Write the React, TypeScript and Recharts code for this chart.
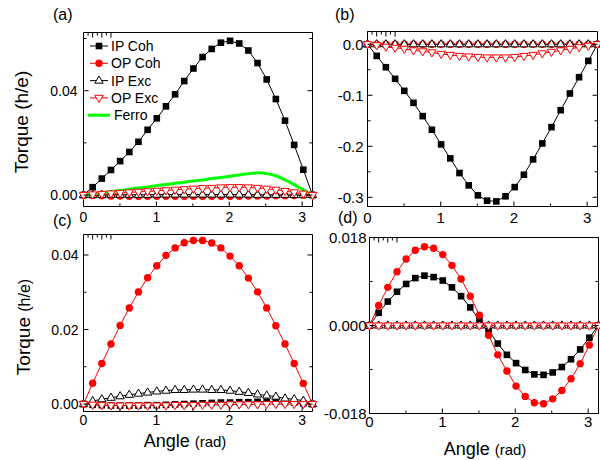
import React from 'react';
import { LineChart, Line, XAxis, YAxis, Legend } from 'recharts';

const FONT = '"Liberation Sans", Arial, Helvetica, sans-serif';

// x values (rad)
const angle = [0, 0.1257, 0.2513, 0.377, 0.5027, 0.6283, 0.754, 0.8796, 1.0053, 1.131, 1.2566, 1.3823, 1.508, 1.6336, 1.7593, 1.885, 2.0106, 2.1363, 2.2619, 2.3876, 2.5133, 2.6389, 2.7646, 2.8903, 3.0159, 3.1416];

// panel (a)
const aIpCoh = [0, 0.003, 0.0063, 0.0096, 0.013, 0.0165, 0.0204, 0.025, 0.0294, 0.034, 0.0386, 0.0437, 0.0485, 0.0529, 0.056, 0.0584, 0.0591, 0.0581, 0.0554, 0.0506, 0.0443, 0.0368, 0.0285, 0.0192, 0.0097, 0];
const aOpCoh = [0, -0.0002, -0.0003, -0.0004, -0.0004, -0.0005, -0.0005, -0.0005, -0.0005, -0.0005, -0.0005, -0.0005, -0.0005, -0.0005, -0.0005, -0.0005, -0.0005, -0.0005, -0.0004, -0.0004, -0.0004, -0.0003, -0.0003, -0.0002, -0.0001, 0];
const aIpExc = [0, 0, 0.0001, 0.0001, 0.0001, 0.0001, 0.0001, 0.0001, 0.0002, 0.0002, 0.0002, 0.0002, 0.0002, 0.0002, 0.0002, 0.0002, 0.0002, 0.0002, 0.0002, 0.0001, 0.0001, 0.0001, 0.0001, 0, 0, 0];
const aOpExc = [0, 0.0002, 0.0004, 0.0006, 0.0008, 0.001, 0.0012, 0.0014, 0.0016, 0.0018, 0.002, 0.0022, 0.0024, 0.0026, 0.0027, 0.0029, 0.003, 0.003, 0.0029, 0.0027, 0.0024, 0.002, 0.0015, 0.001, 0.0005, 0];
const aFerro = [0, 0.0004, 0.0008, 0.0013, 0.0017, 0.0022, 0.0027, 0.0031, 0.0036, 0.004, 0.0045, 0.0049, 0.0054, 0.0058, 0.0063, 0.0067, 0.0072, 0.0077, 0.0082, 0.0085, 0.0082, 0.0074, 0.0058, 0.004, 0.002, 0];

// panel (b)
const bIpCoh = [0, -0.0228, -0.045, -0.0678, -0.0913, -0.1148, -0.1409, -0.1676, -0.1963, -0.2237, -0.2524, -0.2766, -0.2962, -0.3066, -0.308, -0.298, -0.28, -0.2557, -0.2257, -0.1944, -0.1624, -0.1292, -0.0965, -0.0646, -0.0326, 0];
const bOpCoh = [0, 0, 0, 0, 0, 0, 0, 0, 0, 0, 0, 0, 0, 0, 0, 0, 0, 0, 0, 0, 0, 0, 0, 0, 0, 0];
const bIpExc = [0, 0, 0, 0, 0, 0, 0, 0, 0, 0, 0, 0, 0, 0, 0, 0, 0, 0, 0, 0, 0, 0, 0, 0, 0, 0];
const bOpExc = [0, -0.002, -0.005, -0.007, -0.009, -0.012, -0.014, -0.016, -0.019, -0.021, -0.023, -0.024, -0.025, -0.026, -0.026, -0.026, -0.025, -0.023, -0.021, -0.018, -0.015, -0.012, -0.009, -0.006, -0.003, 0];

// panel (c)
const cIpCoh = [0, -0.0002, -0.0003, -0.0004, -0.0004, -0.0004, -0.0004, -0.0003, -0.0003, -0.0002, -0.0001, 0, 0.0001, 0.0002, 0.0003, 0.0004, 0.0004, 0.0005, 0.0005, 0.0006, 0.0006, 0.0006, 0.0005, 0.0004, 0.0002, 0];
const cOpCoh = [0, 0.0056, 0.0109, 0.0161, 0.0211, 0.0258, 0.0301, 0.0339, 0.0371, 0.0399, 0.0419, 0.0433, 0.0439, 0.0439, 0.0432, 0.0419, 0.0397, 0.0371, 0.0338, 0.0301, 0.0258, 0.021, 0.0161, 0.0109, 0.0055, 0];
const cIpExc = [0, 0.0008, 0.0013, 0.0017, 0.0021, 0.0025, 0.0028, 0.0031, 0.0034, 0.0036, 0.0038, 0.0038, 0.0039, 0.0039, 0.0038, 0.0038, 0.0036, 0.0033, 0.003, 0.0026, 0.0023, 0.002, 0.0015, 0.0013, 0.0009, 0];
const cOpExc = [0, -0.0002, -0.0003, -0.0004, -0.0004, -0.0004, -0.0004, -0.0004, -0.0004, -0.0004, -0.0003, -0.0003, -0.0003, -0.0002, -0.0002, -0.0002, -0.0001, -0.0001, -0.0001, -0.0001, 0, 0, 0, 0, 0, 0];

// panel (d)
const dIpCoh = [0, 0.0026, 0.0049, 0.0069, 0.0085, 0.0097, 0.0102, 0.0099, 0.0092, 0.0078, 0.006, 0.0037, 0.0011, -0.0009, -0.0037, -0.006, -0.0077, -0.0091, -0.01, -0.0101, -0.0096, -0.0085, -0.0069, -0.0049, -0.0025, 0];
const dOpCoh = [0, 0.0041, 0.0078, 0.011, 0.0136, 0.0154, 0.0161, 0.0158, 0.0145, 0.0123, 0.0095, 0.006, 0.0021, -0.002, -0.006, -0.0093, -0.0124, -0.0145, -0.0158, -0.016, -0.015, -0.0133, -0.0109, -0.0078, -0.004, 0];
const dIpExc = [0, 0, 0, 0, 0, 0, 0, 0, 0, 0, 0, 0, 0, 0, 0, 0, 0, 0, 0, 0, 0, 0, 0, 0, 0, 0];
const dOpExc = [0, 0, 0, 0, 0, 0, 0, 0, 0, 0, 0, 0, 0, 0, 0, 0, 0, 0, 0, 0, 0, 0, 0, 0, 0, 0];

const xMajor = [0, 1, 2, 3];
const xMinor = [0.5, 1.5, 2.5];

type Shape = 'square' | 'circle' | 'up' | 'down' | 'none';
type SeriesDef = { key: string; name: string; color: string; shape: Shape; width: number; curve: 'linear' | 'monotone' };

const SERIES: SeriesDef[] = [
  { key: 'ipCoh', name: 'IP Coh', color: '#000000', shape: 'square', width: 1, curve: 'linear' },
  { key: 'opCoh', name: 'OP Coh', color: '#ff0000', shape: 'circle', width: 1, curve: 'linear' },
  { key: 'ipExc', name: 'IP Exc', color: '#000000', shape: 'up', width: 1, curve: 'linear' },
  { key: 'opExc', name: 'OP Exc', color: '#ff0000', shape: 'down', width: 1, curve: 'linear' },
  { key: 'ferro', name: 'Ferro', color: '#00ff00', shape: 'none', width: 3, curve: 'monotone' },
];

function marker(shape: Shape, color: string, cx: number, cy: number, key?: any) {
  if (shape === 'square') return <rect key={key} x={cx - 3.3} y={cy - 3.3} width={6.6} height={6.6} fill={color} />;
  if (shape === 'circle') return <circle key={key} cx={cx} cy={cy} r={3.7} fill={color} />;
  if (shape === 'up')
    return <path key={key} d={`M${cx},${cy - 4.6}L${cx - 4.2},${cy + 2.6}L${cx + 4.2},${cy + 2.6}Z`} fill="#fff" stroke={color} strokeWidth={1} />;
  if (shape === 'down')
    return <path key={key} d={`M${cx},${cy + 4.6}L${cx - 4.2},${cy - 2.6}L${cx + 4.2},${cy - 2.6}Z`} fill="#fff" stroke={color} strokeWidth={1} />;
  return <g key={key} />;
}

function buildRows(vals: Record<string, number[]>) {
  return angle.map((a, i) => {
    const r: any = { angle: a };
    Object.keys(vals).forEach((k) => (r[k] = vals[k][i]));
    return r;
  });
}

type PanelCfg = {
  id: string;
  letter: string;
  letterPos: [number, number];
  plot: { l: number; t: number; r: number; b: number };
  yDomain: [number, number];
  yMajor: number[];
  yMinor: number[];
  yDigits: number;
  fontSize: number;
  yGap: number;
  xGap: number;
  rows: any[];
  keys: string[];
  legend?: boolean;
  yTitle?: { x: number; y: number; big: number; small: number };
  xTitle?: { x: number; y: number; big: number; small: number };
};

const isIn = (arr: number[], v: number) => arr.some((m) => Math.abs(m - v) < 1e-9);

function makeTick(side: 'bottom' | 'top' | 'left' | 'right', majors: number[], fmt: (v: number) => string, fontSize: number, gap: number, showLabel: boolean) {
  return (props: any) => {
    const { x, y, payload } = props;
    const v = payload.value;
    const major = isIn(majors, v);
    const len = major ? 5 : 3;
    let line: any = null;
    let label: any = null;
    if (side === 'bottom') {
      line = <line x1={x} y1={y} x2={x} y2={y - len} stroke="#000" strokeWidth={1} />;
      if (major && showLabel)
        label = (
          <text x={x} y={y + gap} textAnchor="middle" dy="0.71em" fontSize={fontSize} fontFamily={FONT} fill="#000">
            {fmt(v)}
          </text>
        );
    } else if (side === 'top') {
      line = <line x1={x} y1={y} x2={x} y2={y + len} stroke="#000" strokeWidth={1} />;
    } else if (side === 'left') {
      line = <line x1={x} y1={y} x2={x + len} y2={y} stroke="#000" strokeWidth={1} />;
      if (major && showLabel)
        label = (
          <text x={x - gap} y={y} textAnchor="end" dy="0.36em" fontSize={fontSize} fontFamily={FONT} fill="#000">
            {fmt(v)}
          </text>
        );
    } else {
      line = <line x1={x} y1={y} x2={x - len} y2={y} stroke="#000" strokeWidth={1} />;
    }
    return (
      <g>
        {line}
        {label}
      </g>
    );
  };
}

const LegendBox = () => (
  <svg width={130} height={92} style={{ display: 'block', overflow: 'visible' }}>
    {SERIES.map((s, i) => {
      const cy = 9 + i * 17.3;
      const isFerro = s.shape === 'none';
      return (
        <g key={s.key}>
          {isFerro ? (
            <line x1={1} x2={23} y1={cy} y2={cy} stroke={s.color} strokeWidth={3} />
          ) : (
            <>
              <line x1={3} x2={21} y1={cy} y2={cy} stroke={s.color} strokeWidth={1} />
              {marker(s.shape, s.color, 12, cy)}
            </>
          )}
          <text x={isFerro ? 27 : 24} y={cy} dy="0.36em" fontSize={14} fontFamily={FONT} fill="#000">
            {s.name}
          </text>
        </g>
      );
    })}
  </svg>
);

function Panel({ cfg }: { cfg: PanelCfg }) {
  const W = 600;
  const H = 460;
  const { l, t, r, b } = cfg.plot;
  const yFmt = (v: number) => v.toFixed(cfg.yDigits);
  const xFmt = (v: number) => String(v);
  const xTicks = [...xMajor, ...xMinor].sort((p, q) => p - q);
  const yTicks = [...cfg.yMajor, ...cfg.yMinor].sort((p, q) => p - q);
  const xDom: [number, number] = [0, 3.1416];
  const series = SERIES.filter((s) => cfg.keys.includes(s.key));
  return (
    <div style={{ position: 'absolute', left: 0, top: 0, width: W, height: H }}>
      <LineChart width={W} height={H} data={cfg.rows} margin={{ top: t - 1, left: l - 1, right: W - r - 1, bottom: H - b - 1 }}>
        <XAxis
          xAxisId="b"
          dataKey="angle"
          type="number"
          domain={xDom}
          ticks={xTicks}
          interval={0}
          height={1}
          tickSize={0}
          tickMargin={0}
          tickLine={false}
          axisLine={{ stroke: '#000', strokeWidth: 1 }}
          tick={makeTick('bottom', xMajor, xFmt, cfg.fontSize, cfg.xGap, true)}
          label={
            cfg.xTitle
              ? {
                  content: () => (
                    <text x={cfg.xTitle!.x} y={cfg.xTitle!.y} textAnchor="middle" fontFamily={FONT} fill="#000">
                      <tspan fontSize={cfg.xTitle!.big}>Angle </tspan>
                      <tspan fontSize={cfg.xTitle!.small}>(rad)</tspan>
                    </text>
                  ),
                }
              : undefined
          }
        />
        <XAxis
          xAxisId="t"
          orientation="top"
          type="number"
          domain={xDom}
          allowDataOverflow
          ticks={xTicks}
          interval={0}
          height={1}
          tickSize={0}
          tickMargin={0}
          tickLine={false}
          axisLine={{ stroke: '#000', strokeWidth: 1 }}
          tick={makeTick('top', xMajor, xFmt, cfg.fontSize, 0, false)}
        />
        <YAxis
          yAxisId="l"
          type="number"
          domain={cfg.yDomain}
          ticks={yTicks}
          interval={0}
          width={1}
          tickSize={0}
          tickMargin={0}
          tickLine={false}
          axisLine={{ stroke: '#000', strokeWidth: 1 }}
          tick={makeTick('left', cfg.yMajor, yFmt, cfg.fontSize, cfg.yGap, true)}
          label={
            cfg.yTitle
              ? {
                  content: () => (
                    <text
                      transform={`translate(${cfg.yTitle!.x},${cfg.yTitle!.y}) rotate(-90)`}
                      textAnchor="middle"
                      fontFamily={FONT}
                      fill="#000"
                    >
                      <tspan fontSize={cfg.yTitle!.big}>Torque </tspan>
                      <tspan fontSize={cfg.yTitle!.small}>(h/e)</tspan>
                    </text>
                  ),
                }
              : undefined
          }
        />
        <YAxis
          yAxisId="r"
          orientation="right"
          type="number"
          domain={cfg.yDomain}
          allowDataOverflow
          ticks={yTicks}
          interval={0}
          width={1}
          tickSize={0}
          tickMargin={0}
          tickLine={false}
          axisLine={{ stroke: '#000', strokeWidth: 1 }}
          tick={makeTick('right', cfg.yMajor, yFmt, cfg.fontSize, 0, false)}
          label={{
            content: () => (
              <text x={cfg.letterPos[0]} y={cfg.letterPos[1]} fontSize={16} fontFamily={FONT} fill="#000">
                {cfg.letter}
              </text>
            ),
          }}
        />
        {series.map((s) => (
          <Line
            key={s.key}
            xAxisId="b"
            yAxisId="l"
            dataKey={s.key}
            name={s.name}
            type={s.curve}
            stroke={s.color}
            strokeWidth={s.width}
            isAnimationActive={false}
            activeDot={false}
            dot={
              s.shape === 'none'
                ? false
                : (p: any) => marker(s.shape, s.color, p.cx, p.cy, `${s.key}-${p.index}`)
            }
          />
        ))}
        {cfg.legend ? (
          <Legend
            layout="vertical"
            align="center"
            verticalAlign="middle"
            content={() => <LegendBox />}
            wrapperStyle={{ left: 87, top: 37, width: 130, height: 92 }}
          />
        ) : null}
      </LineChart>
    </div>
  );
}

const panels: PanelCfg[] = [
  {
    id: 'a',
    letter: '(a)',
    letterPos: [53, 20],
    plot: { l: 83.5, t: 32.5, r: 312.5, b: 206.5 },
    yDomain: [-0.0044, 0.0623],
    yMajor: [0, 0.04],
    yMinor: [0.02, 0.06],
    yDigits: 2,
    fontSize: 14,
    yGap: 6,
    xGap: 6,
    rows: buildRows({ ipCoh: aIpCoh, opCoh: aOpCoh, ipExc: aIpExc, opExc: aOpExc, ferro: aFerro }),
    keys: ['ipCoh', 'opCoh', 'ipExc', 'opExc', 'ferro'],
    legend: true,
    yTitle: { x: 28, y: 122, big: 19, small: 19 },
  },
  {
    id: 'b',
    letter: '(b)',
    letterPos: [335, 20],
    plot: { l: 367.5, t: 31.5, r: 597.5, b: 206.5 },
    yDomain: [-0.318, 0.025],
    yMajor: [-0.3, -0.2, -0.1, 0],
    yMinor: [-0.25, -0.15, -0.05],
    yDigits: 1,
    fontSize: 15,
    yGap: 4,
    xGap: 6,
    rows: buildRows({ ipCoh: bIpCoh, opCoh: bOpCoh, ipExc: bIpExc, opExc: bOpExc }),
    keys: ['ipCoh', 'opCoh', 'ipExc', 'opExc'],
  },
  {
    id: 'c',
    letter: '(c)',
    letterPos: [53, 226],
    plot: { l: 83.5, t: 234.5, r: 312.5, b: 411.5 },
    yDomain: [-0.002, 0.0455],
    yMajor: [0, 0.02, 0.04],
    yMinor: [0.01, 0.03],
    yDigits: 2,
    fontSize: 14,
    yGap: 5,
    xGap: 4,
    rows: buildRows({ ipCoh: cIpCoh, opCoh: cOpCoh, ipExc: cIpExc, opExc: cOpExc }),
    keys: ['ipCoh', 'opCoh', 'ipExc', 'opExc'],
    yTitle: { x: 30, y: 327, big: 19, small: 16 },
    xTitle: { x: 185, y: 447, big: 18, small: 15 },
  },
  {
    id: 'd',
    letter: '(d)',
    letterPos: [338, 223],
    plot: { l: 369.5, t: 237.5, r: 598.5, b: 413.5 },
    yDomain: [-0.018, 0.018],
    yMajor: [-0.018, 0, 0.018],
    yMinor: [-0.009, 0.009],
    yDigits: 3,
    fontSize: 15,
    yGap: 3,
    xGap: 3,
    rows: buildRows({ ipCoh: dIpCoh, opCoh: dOpCoh, ipExc: dIpExc, opExc: dOpExc }),
    keys: ['ipCoh', 'opCoh', 'ipExc', 'opExc'],
    xTitle: { x: 485, y: 455, big: 18, small: 15 },
  },
];

export default function App() {
  return (
    <div style={{ position: 'absolute', left: 0, top: 0, width: 600, height: 460, background: '#fff', overflow: 'hidden' }}>
      {panels.map((p) => (
        <Panel key={p.id} cfg={p} />
      ))}
    </div>
  );
}
